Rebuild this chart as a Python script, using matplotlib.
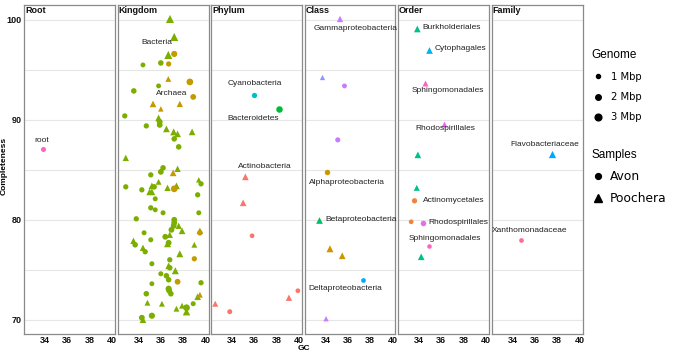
import matplotlib
matplotlib.use("Agg")
import matplotlib.pyplot as plt
from matplotlib.lines import Line2D
import numpy as np

plt.rcParams['font.family'] = ['Liberation Sans', 'DejaVu Sans']

# ---------------- data ----------------
panels = ["Root", "Kingdom", "Phylum", "Class", "Order", "Family"]

# Root
root_x = [33.8]
root_y = [87.1]
root_g = [1.6]
root_s = ["Avon"]
root_t = ["root"]

# Kingdom  (B = Bacteria, A = Archaea ; C = Avon circle, T = Poochera triangle)
king_x = [36.82, 37.2, 36.67, 37.2, 34.4, 36.0, 36.7, 36.67, 38.6, 35.8,
          33.58, 38.9, 35.3, 36.0, 37.7, 32.77, 34.7, 35.8, 35.9, 35.9,
          36.5, 37.15, 37.5, 38.8, 37.2, 37.6, 32.86, 36.2, 37.5, 35.1,
          36.0, 37.1, 39.4, 39.6, 32.86, 34.3, 35.8, 35.2, 35.4, 35.0,
          35.2, 36.6, 37.2, 37.4, 39.3, 35.5, 35.1, 35.5, 36.2, 39.4,
          33.8, 37.2, 37.2, 37.15, 36.95, 37.6, 37.9, 34.5, 39.5, 39.5,
          36.8, 36.4, 35.1, 33.55, 33.7, 34.4, 34.6, 36.6, 36.7, 39.0,
          37.7, 35.2, 39.0, 36.8, 36.7, 36.8, 37.3, 36.0, 36.5, 36.7,
          37.5, 35.2, 39.6, 36.7, 36.9, 36.75, 34.7, 39.3, 39.5, 38.9,
          34.8, 36.1, 37.9, 37.4, 38.3, 38.3, 34.3, 34.4, 35.2]
king_y = [100.1, 98.3, 96.5, 96.6, 95.5, 95.7, 95.6, 94.1, 93.8, 93.4,
          92.9, 92.3, 91.6, 91.1, 91.6, 90.4, 89.4, 90.2, 89.8, 89.5,
          89.1, 88.8, 88.6, 88.8, 88.1, 87.3, 86.2, 85.2, 85.1, 84.5,
          84.8, 84.7, 84.0, 83.6, 83.3, 83.0, 83.8, 83.4, 83.3, 82.8,
          82.8, 83.2, 83.1, 83.4, 82.5, 82.1, 81.2, 81.0, 80.7, 80.7,
          80.1, 80.0, 79.7, 79.4, 79.0, 79.4, 78.9, 78.7, 78.7, 78.9,
          78.5, 78.3, 78.0, 77.9, 77.5, 77.2, 76.8, 77.6, 77.7, 77.5,
          76.6, 75.6, 76.1, 76.0, 75.4, 75.2, 74.9, 74.6, 74.4, 74.0,
          73.8, 73.6, 73.7, 73.1, 72.6, 72.9, 72.6, 72.3, 72.5, 71.6,
          71.7, 71.6, 71.4, 71.1, 71.2, 70.8, 70.2, 70.0, 70.4]
king_g = [3.0, 3.0, 3.0, 2.5, 1.5, 2.0, 1.8, 1.5, 3.0, 1.5,
          2.0, 2.2, 2.0, 1.3, 1.8, 1.8, 1.8, 2.0, 2.2, 2.2,
          2.0, 2.2, 2.0, 2.0, 2.0, 2.0, 1.8, 2.0, 1.8, 1.8,
          2.2, 2.0, 1.3, 1.8, 1.8, 1.8, 1.5, 2.0, 2.0, 2.0,
          2.0, 1.8, 3.0, 2.0, 1.8, 1.6, 1.8, 1.5, 1.6, 1.6,
          1.8, 2.2, 2.2, 2.2, 2.2, 1.8, 2.0, 1.6, 2.0, 1.8,
          1.8, 2.2, 1.6, 1.8, 2.0, 1.8, 1.8, 2.2, 2.2, 1.5,
          2.2, 1.6, 1.8, 1.8, 2.0, 2.0, 2.2, 1.6, 2.0, 2.0,
          2.2, 1.5, 1.8, 2.5, 2.0, 2.2, 2.0, 2.0, 1.5, 1.6,
          1.5, 1.5, 1.5, 1.5, 3.0, 2.5, 2.2, 2.0, 2.5]
king_s = list("TTTCCCCTCC"
              "CCTTTCCTCC"
              "TTTTCCTCTC"
              "CTTCCCTTCT"
              "TTCTCCCCCC"
              "CCCCCTTCCT"
              "TCCTCTCTCT"
              "TCCCTCTCCC"
              "CCCCCCCTTC"
              "TTTTCTCTC")
king_t = list("BBBABBAAAB"
              "BAAAABBBBB"
              "BBBBBBBBBB"
              "BABBBBBBBB"
              "BBABBBBBBB"
              "BBBBBBBBAB"
              "BBBBBBBBBB"
              "BBABBBBBBB"
              "ABBBBBBBAB"
              "BBBBBBBBB")

# Phylum
phy_x = [36.0, 38.2, 35.2, 35.0, 35.8, 39.9, 39.1, 32.5, 33.8]
phy_y = [92.5, 91.1, 84.3, 81.7, 78.4, 72.9, 72.2, 71.6, 70.8]
phy_g = [1.8, 2.8, 2.0, 2.0, 1.4, 1.4, 1.8, 1.6, 1.6]
phy_s = ["Avon", "Avon", "Poochera", "Poochera", "Avon", "Avon", "Poochera", "Poochera", "Avon"]
phy_t = ["Cyanobacteria", "Bacteroidetes", "Actinobacteria", "Actinobacteria", "Actinobacteria",
         "Actinobacteria", "Actinobacteria", "Actinobacteria", "Actinobacteria"]

# Class
cls_x = [35.3, 33.7, 35.7, 35.1, 34.15, 33.4, 34.4, 35.5, 37.4, 34.05]
cls_y = [100.1, 94.3, 93.4, 88.0, 84.8, 80.0, 77.1, 76.4, 74.0, 70.1]
cls_g = [1.8, 1.2, 1.5, 1.7, 1.9, 2.0, 2.2, 2.0, 1.4, 1.2]
cls_s = ["Poochera", "Poochera", "Avon", "Avon", "Avon", "Poochera", "Poochera", "Poochera", "Avon", "Poochera"]
cls_t = ["Gammaproteobacteria", "Gammaproteobacteria2", "Gammaproteobacteria", "Gammaproteobacteria",
         "Alphaproteobacteria", "Betaproteobacteria", "Alphaproteobacteria", "Alphaproteobacteria",
         "Deltaproteobacteria", "Gammaproteobacteria"]

# Order
ord_x = [33.85, 34.9, 34.5, 36.2, 33.9, 33.8, 33.6, 33.3, 34.4, 34.9, 34.2]
ord_y = [99.1, 97.0, 93.7, 89.6, 86.5, 83.2, 81.9, 79.8, 79.7, 77.4, 76.3]
ord_g = [2.0, 2.0, 1.6, 1.6, 2.0, 1.6, 1.8, 1.4, 2.0, 1.3, 2.0]
ord_s = ["Poochera", "Poochera", "Poochera", "Poochera", "Poochera", "Poochera",
         "Avon", "Avon", "Avon", "Avon", "Poochera"]
ord_t = ["Burkholderiales", "Cytophagales", "Sphingomonadales", "Rhodospirillales",
         "Burkholderiales", "Burkholderiales", "Actinomycetales", "Actinomycetales",
         "Rhodospirillales", "Sphingomonadales", "Burkholderiales"]

# Family
fam_x = [37.5, 34.8]
fam_y = [86.6, 78.0]
fam_g = [2.4, 1.4]
fam_s = ["Poochera", "Avon"]
fam_t = ["Flavobacteriaceae", "Xanthomonadaceae"]

# text labels (label, x, y)
root_labels = [("root", 33.7, 87.9)]
king_labels = [("Bacteria", 35.65, 97.7), ("Archaea", 36.95, 92.6)]
phy_labels = [("Cyanobacteria", 36.05, 93.6), ("Bacteroidetes", 35.9, 90.1),
              ("Actinobacteria", 36.9, 85.3)]
cls_labels = [("Gammaproteobacteria", 36.7, 99.1), ("Alphaproteobacteria", 35.9, 83.7),
              ("Betaproteobacteria", 37.2, 80.0), ("Deltaproteobacteria", 35.8, 73.1)]
ord_labels = [("Burkholderiales", 36.9, 99.2), ("Cytophagales", 37.7, 97.1),
              ("Sphingomonadales", 36.55, 92.9), ("Rhodospirillales", 36.4, 89.1),
              ("Actinomycetales", 37.1, 81.9), ("Rhodospirillales", 37.5, 79.7),
              ("Sphingomonadales", 36.3, 78.1)]
fam_labels = [("Flavobacteriaceae", 36.9, 87.5), ("Xanthomonadaceae", 35.5, 78.9)]

x_ticks = [34, 36, 38, 40]
y_ticks = [70, 80, 90, 100]
genome_legend = [1, 2, 3]
sample_names = ["Avon", "Poochera"]

# ---------------- styles ----------------
colors = {
    "root": "#FF61C9",
    "B": "#7CAE00", "A": "#C49A00",
    "Cyanobacteria": "#00BFC4", "Bacteroidetes": "#00BA38", "Actinobacteria": "#F8766D",
    "Gammaproteobacteria": "#C77CFF", "Gammaproteobacteria2": "#8F94FF",
    "Alphaproteobacteria": "#CD9600", "Betaproteobacteria": "#00BE67",
    "Deltaproteobacteria": "#00A9FF",
    "Burkholderiales": "#00C08B", "Cytophagales": "#00B4F0",
    "Sphingomonadales": "#FF61C3", "Rhodospirillales": "#E76BF3",
    "Actinomycetales": "#F0843A",
    "Flavobacteriaceae": "#00A9FF", "Xanthomonadaceae": "#FF6C91",
}

def norm_sample(s):
    return "Poochera" if s in ("T", "Poochera") else "Avon"

def size_of(g, sample):
    s = 1.0 + 7.5 * g
    return s * 1.45 if sample == "Poochera" else s

W, H = 685, 352
fig = plt.figure(figsize=(W / 100, H / 100), dpi=100)
lefts = [24, 117.5, 211, 304.5, 398, 491.5]
pw = 91
bottom = 1 - 334 / H
height = 329 / H

data = [
    (root_x, root_y, root_g, root_s, root_t, root_labels),
    (king_x, king_y, king_g, king_s, king_t, king_labels),
    (phy_x, phy_y, phy_g, phy_s, phy_t, phy_labels),
    (cls_x, cls_y, cls_g, cls_s, cls_t, cls_labels),
    (ord_x, ord_y, ord_g, ord_s, ord_t, ord_labels),
    (fam_x, fam_y, fam_g, fam_s, fam_t, fam_labels),
]

tick_font = dict(fontsize=6.5, fontweight="bold")
for i, (name, (xs, ys, gs, ss, ts, labs)) in enumerate(zip(panels, data)):
    ax = fig.add_axes([lefts[i] / W, bottom, pw / W, height])
    ax.set_xlim(32.12, 40.27)
    ax.set_ylim(68.57, 101.5)
    ax.set_yticks(y_ticks)
    ax.set_yticks([75, 85, 95], minor=True)
    ax.set_xticks(x_ticks)
    ax.set_xticklabels([str(v) for v in x_ticks], **tick_font)
    if i == 0:
        ax.set_yticklabels([str(v) for v in y_ticks], **tick_font)
    else:
        ax.set_yticklabels([])
    ax.tick_params(axis="both", which="both", length=0, pad=1.5, colors="#111111")
    ax.grid(True, axis="y", which="both", color="#e6e6e6", lw=0.8)
    ax.set_axisbelow(True)
    for sp in ax.spines.values():
        sp.set_color("#8a8a8a")
        sp.set_linewidth(0.9)
    ax.text(0.012, 0.997, name, transform=ax.transAxes, ha="left", va="top",
            fontsize=6.5, fontweight="bold", color="#111111")

    xs = np.asarray(xs); ys = np.asarray(ys); gs = np.asarray(gs)
    samples = np.array([norm_sample(s) for s in ss])
    taxa = np.array(ts)
    for tax in dict.fromkeys(ts):
        for smp, mk in (("Avon", "o"), ("Poochera", "^")):
            m = (taxa == tax) & (samples == smp)
            if m.any():
                ax.scatter(xs[m], ys[m], s=[size_of(g, smp) for g in gs[m]],
                           c=colors[tax], marker=mk, linewidths=0, zorder=3)
    for lab, lx, ly in labs:
        ax.text(lx, ly, lab, ha="center", va="center", fontsize=6.0,
                color="#222222", zorder=4, clip_on=False)

fig.text(304 / W, 1 - 348.5 / H, "GC", ha="center", va="center",
         fontsize=6, fontweight="bold")
fig.text(4 / W, 1 - 166 / H, "Completeness", rotation=90, ha="center", va="center",
         fontsize=6, fontweight="bold")

# legends
g_handles = [Line2D([], [], ls="", marker="o", color="black",
                    markersize=np.sqrt(1.0 + 7.5 * g)) for g in genome_legend]
leg1 = fig.legend(g_handles, [f"{g} Mbp" for g in genome_legend],
                  loc="upper left", bbox_to_anchor=(591 / W, 1 - 49 / H),
                  frameon=False, title="Genome", title_fontsize=8.5,
                  prop={"family": "DejaVu Sans", "size": 7.2},
                  handlelength=1.3, handletextpad=0.7, labelspacing=1.05,
                  borderpad=0, borderaxespad=0, alignment="left")
s_handles = [Line2D([], [], ls="", marker="o", color="black", markersize=4.2),
             Line2D([], [], ls="", marker="^", color="black", markersize=5.2)]
leg2 = fig.legend(s_handles, sample_names,
                  loc="upper left", bbox_to_anchor=(591 / W, 1 - 149 / H),
                  frameon=False, title="Samples", title_fontsize=8.5,
                  prop={"family": "DejaVu Sans", "size": 8.8},
                  handlelength=1.1, handletextpad=0.45, labelspacing=0.75,
                  borderpad=0, borderaxespad=0, alignment="left")

fig.savefig("out.png", dpi=100)
